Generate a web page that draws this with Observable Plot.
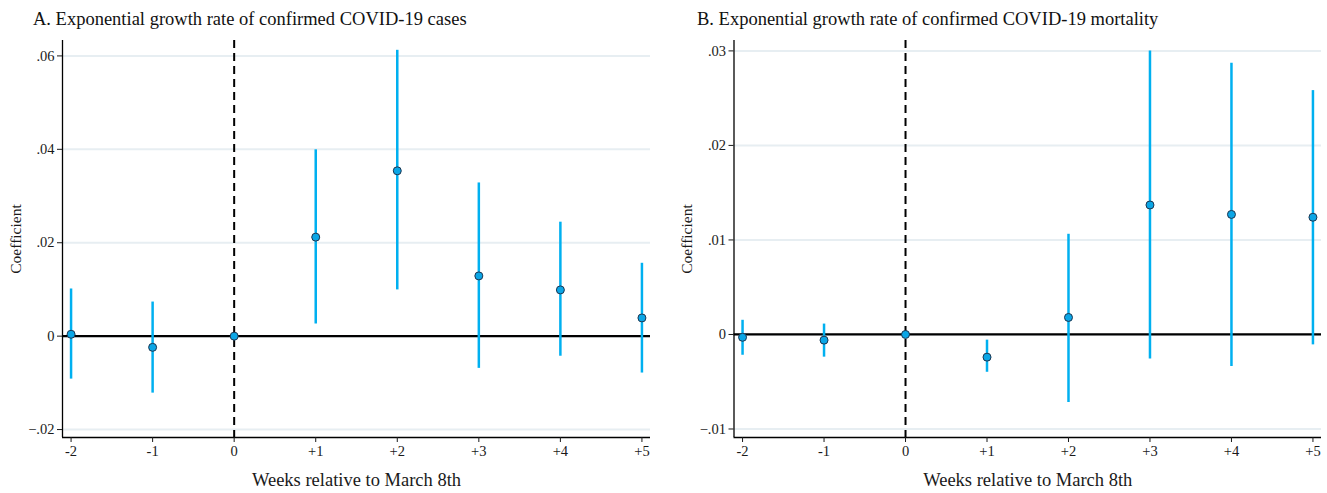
<!DOCTYPE html>
<html><head><meta charset="utf-8">
<script src="https://cdn.jsdelivr.net/npm/d3@7"></script>
<script src="https://cdn.jsdelivr.net/npm/@observablehq/plot@0.6"></script>
<style>
body{margin:0;background:#fff;}
#wrap{position:relative;width:1327px;height:493px;overflow:hidden;font-family:"Liberation Serif",serif;}
.panel{position:absolute;top:0;}
.title{height:32px;box-sizing:border-box;padding-top:6px;line-height:26px;font-size:18.5px;color:#111;white-space:nowrap;}
svg{display:block;}
</style></head><body>
<div id="wrap">
 <div class="panel" id="pa" style="left:0;width:663px"><div class="title" style="padding-left:33px">A. Exponential growth rate of confirmed COVID-19 cases</div></div>
 <div class="panel" id="pb" style="left:663px;width:664px"><div class="title" style="padding-left:34px">B. Exponential growth rate of confirmed COVID-19 mortality</div></div>
</div>
<script>
// Weeks relative to March 8th
const weeks = [-2, -1, 0, 1, 2, 3, 4, 5];
const referenceWeek = 0;

// Panel A: cases
const casesCoef = [0.0004, -0.0024, 0, 0.0212, 0.0354, 0.0129, 0.0099, 0.0039];
const casesLo   = [-0.0092, -0.0122, null, 0.0026, 0.0099, -0.0069, -0.0043, -0.0079];
const casesHi   = [0.0101, 0.0073, null, 0.0399, 0.0612, 0.0328, 0.0244, 0.0156];
const casesTicks = [-0.02, 0, 0.02, 0.04, 0.06];
const casesDomain = [-0.0217, 0.0633];

// Panel B: mortality
const mortCoef = [-0.0003, -0.0006, 0, -0.0024, 0.0018, 0.0137, 0.0127, 0.0124];
const mortLo   = [-0.0022, -0.0024, null, -0.0040, -0.0072, -0.0026, -0.0034, -0.0011];
const mortHi   = [0.0015, 0.0011, null, -0.0006, 0.0106, 0.0300, 0.0287, 0.0258];
const mortTicks = [-0.01, 0, 0.01, 0.02, 0.03];
const mortDomain = [-0.0109, 0.0311];

const xDomain = [-2.105, 5.105];
const xLabel = "Weeks relative to March 8th";
const yLabel = "Coefficient";

const fmtY = d => d === 0 ? "0" : d3.format(".2f")(d).replace("0.", ".");
const fmtX = d => d > 0 ? "+" + d : String(d);

function panel(coef, lo, hi, yTicks, yDomain, width, ml, mr) {
  const rows = weeks.map((w, i) => ({week: w, coef: coef[i], lo: lo[i], hi: hi[i]}));
  return Plot.plot({
    width, height: 461, marginLeft: ml, marginRight: mr, marginTop: 8, marginBottom: 56,
    style: {fontFamily: "Liberation Serif", fontSize: "14px", color: "#1a1a1a", background: "#fff", overflow: "visible"},
    x: {domain: xDomain},
    y: {domain: yDomain},
    marks: [
      Plot.gridY(yTicks, {stroke: "#e7eef2", strokeOpacity: 1, strokeWidth: 2}),
      Plot.ruleX([xDomain[0]], {stroke: "#000", strokeWidth: 1.3}),
      Plot.ruleY([yDomain[0]], {stroke: "#000", strokeWidth: 1.3}),
      Plot.ruleY([0], {stroke: "#000", strokeWidth: 2.2}),
      Plot.ruleX([referenceWeek], {stroke: "#000", strokeWidth: 2, strokeDasharray: "8,5"}),
      Plot.ruleX(rows.filter(d => d.lo != null), {x: "week", y1: "lo", y2: "hi", stroke: "#00b0f0", strokeWidth: 2.5}),
      Plot.dot(rows, {x: "week", y: "coef", r: 4, fill: "#0ba6e6", stroke: "#1d3550", strokeWidth: 1}),
      Plot.axisY(yTicks, {tickFormat: fmtY, tickSize: 5, tickPadding: 3, fontSize: 14.5, label: null}),
      Plot.axisY([], {label: yLabel, labelArrow: "none", labelAnchor: "center", labelOffset: 53, fontSize: 15.5}),
      Plot.axisX(weeks, {tickFormat: fmtX, tickSize: 5, tickPadding: 3, fontSize: 14.5, label: null}),
      Plot.axisX([], {label: xLabel, labelArrow: "none", labelAnchor: "center", labelOffset: 48, fontSize: 18.5})
    ]
  });
}

document.getElementById("pa").appendChild(panel(casesCoef, casesLo, casesHi, casesTicks, casesDomain, 663, 62, 13));
document.getElementById("pb").appendChild(panel(mortCoef, mortLo, mortHi, mortTicks, mortDomain, 664, 70.5, 6));
</script>
</body></html>
